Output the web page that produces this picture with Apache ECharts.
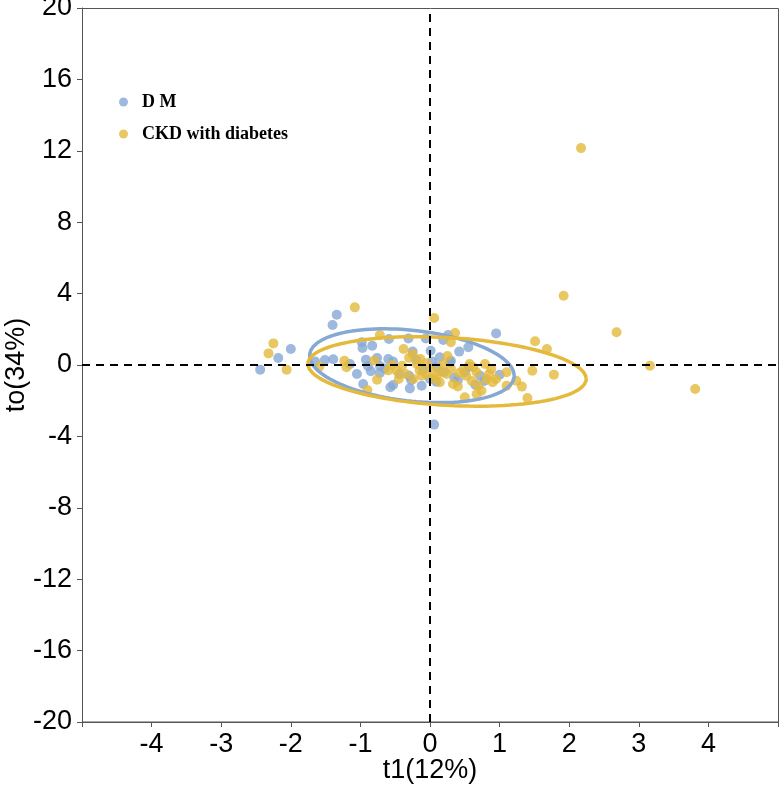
<!DOCTYPE html>
<html>
<head>
<meta charset="utf-8">
<script src="https://cdn.jsdelivr.net/npm/echarts@6/dist/echarts.min.js"></script>
<style>
  html, body { margin: 0; padding: 0; background: #fff; }
  #chart { width: 779px; height: 789px; }
</style>
</head>
<body>
<div id="chart"></div>
<script>
// group names
var groupNames = ['D M', 'CKD with diabetes'];

// scores t1 / to
var dmPoints = [
  [-2.44, -0.26], [-2.18, 0.39], [-2.0, 0.9], [-1.34, 2.82], [-1.40, 2.24],
  [-1.51, 0.28], [-1.39, 0.32], [-1.15, 0.06], [-0.98, 1.27], [-0.97, 0.95],
  [-0.83, 1.08], [-0.92, 0.3], [-0.89, -0.07], [-0.76, 0.39], [-0.72, -0.06],
  [-0.72, -0.45], [-0.96, -1.06], [-0.59, 1.46], [-0.6, 0.34], [-0.53, 0.19],
  [-0.57, -1.25], [-0.53, -1.12], [-0.31, 1.49], [-0.25, 0.75], [-0.3, -0.6],
  [-0.27, -0.85], [-0.29, -1.31], [-0.12, -1.16], [-0.06, 1.49], [0.01, 0.8],
  [0.03, 0.2], [0.14, 0.43], [0.19, 1.4], [0.26, 1.68], [0.3, 0.24],
  [0.09, -0.94], [0.42, 0.75], [0.55, 0.99], [0.95, 1.77], [0.06, -3.34],
  [0.35, -0.7], [0.4, -0.85], [0.56, -0.1], [0.29, 0.15], [0.72, -0.6],
  [0.78, -0.9], [-0.44, -0.5], [-0.1, -0.3], [0.2, -0.4], [-1.05, -0.5],
  [-0.65, -0.2], [0.1, -0.1], [-0.2, 0.3], [0.5, -0.4], [1.0, -0.55],
  [-1.65, 0.2], [-0.85, -0.35], [0.65, -1.1], [0.0, -0.78]
];

var ckdPoints = [
  [-1.08, 3.23], [0.06, 2.63], [-2.25, 1.21], [-2.32, 0.65], [-2.06, -0.26],
  [-1.59, -0.09], [-1.23, 0.24], [-1.2, -0.13], [-0.76, -0.82], [-0.9, -1.4],
  [-0.72, 1.68], [-0.38, 0.9], [-0.25, 0.62], [-0.14, 0.34], [-0.19, 0.06],
  [-0.4, -0.04], [-0.48, -0.32], [-0.45, -0.78], [-0.24, -0.78], [-0.12, -0.6],
  [-0.05, -0.5], [0.02, -0.22], [0.1, -0.6], [0.19, 0.06], [0.24, -0.5],
  [0.14, -0.97], [0.48, -0.22], [0.52, -0.6], [0.57, 0.06], [0.62, -0.13],
  [0.67, -0.41], [0.79, 0.06], [0.88, -0.22], [0.81, -0.78], [0.69, -1.16],
  [0.74, -1.44], [0.9, -0.97], [0.95, -0.78], [1.1, -0.41], [1.1, -1.16],
  [1.24, -0.88], [1.32, -1.21], [1.4, -1.85], [1.47, -0.32], [1.51, 1.33],
  [0.5, -1.81], [0.67, -1.62], [0.33, -1.06], [0.4, -1.2], [1.92, 3.88],
  [2.68, 1.83], [3.16, -0.04], [3.81, -1.34], [1.68, 0.9], [1.78, -0.54],
  [0.36, 1.79], [0.3, 1.27], [2.17, 12.15], [-0.6, -0.3], [-0.3, 0.4],
  [-0.05, 0.1], [0.3, -0.2], [0.05, -0.75], [-0.35, -0.5], [0.42, -0.45],
  [-0.15, -0.3], [0.6, -0.9], [0.85, -0.5], [-0.55, 0.0], [0.15, -0.35],
  [-0.8, 0.25], [0.25, 0.5]
];

// confidence ellipses: centre and two conjugate half-axes, data units
var dmEllipse = { c: [-0.26, -0.04], u: [1.47, -0.56], v: [0, 1.99] };
var ckdEllipse = { c: [0.245, -0.36], u: [2.0, -0.42], v: [0, 1.90] };

var xTicks = [-4, -3, -2, -1, 0, 1, 2, 3, 4];

var colors = ['#86A8D4', '#E4B93C'];

function ellipsePath(e) {
  var pts = [];
  for (var i = 0; i <= 120; i++) {
    var t = i / 120 * Math.PI * 2;
    pts.push([
      e.c[0] + e.u[0] * Math.cos(t) + e.v[0] * Math.sin(t),
      e.c[1] + e.u[1] * Math.cos(t) + e.v[1] * Math.sin(t)
    ]);
  }
  return pts;
}

var myChart = echarts.init(document.getElementById('chart'));

var axisFont = { fontFamily: 'Liberation Sans', fontSize: 27, color: '#000' };

var option = {
  animation: false,
  grid: { left: 82, right: 1, top: 8, bottom: 67, outerBoundsMode: 'none', containLabel: false },
  legend: {
    left: 114,
    top: 88,
    orient: 'vertical',
    itemGap: 14,
    icon: 'circle',
    itemWidth: 9,
    itemHeight: 9,
    data: groupNames,
    textStyle: {
      fontFamily: 'Liberation Serif', fontWeight: 'bold', fontSize: 18,
      lineHeight: 18, color: '#000', padding: [0, 0, 0, 9]
    }
  },
  xAxis: {
    type: 'value',
    min: -5,
    max: 5,
    interval: 1,
    name: 't1(12%)',
    nameLocation: 'middle',
    nameGap: 35,
    nameMoveOverlap: false,
    nameTextStyle: axisFont,
    axisLine: { onZero: false, lineStyle: { color: '#555' } },
    axisTick: { length: 5, lineStyle: { color: '#555' } },
    axisLabel: Object.assign({
      margin: 9,
      formatter: function (v) { return xTicks.indexOf(v) >= 0 ? String(v) : ''; }
    }, axisFont),
    splitLine: { show: false }
  },
  yAxis: {
    type: 'value',
    min: -20,
    max: 20,
    interval: 4,
    name: 'to(34%)',
    nameLocation: 'middle',
    nameGap: 52,
    nameMoveOverlap: false,
    nameTextStyle: axisFont,
    axisLine: { onZero: false, lineStyle: { color: '#555' } },
    axisTick: { length: 5, lineStyle: { color: '#555' } },
    axisLabel: Object.assign({ margin: 10 }, axisFont),
    splitLine: { show: false }
  },
  series: [
    {
      name: groupNames[0],
      type: 'scatter',
      data: dmPoints,
      symbolSize: 10,
      itemStyle: { color: colors[0] },
      z: 3,
      markLine: {
        silent: true,
        symbol: 'none',
        label: { show: false },
        lineStyle: { color: '#000', type: [8, 6], width: 2 },
        data: [{ xAxis: 0 }, { yAxis: 0 }]
      }
    },
    {
      name: groupNames[1],
      type: 'scatter',
      data: ckdPoints,
      symbolSize: 10,
      itemStyle: { color: colors[1] },
      z: 3
    },
    {
      name: groupNames[0] + ' ellipse',
      type: 'line',
      data: ellipsePath(dmEllipse),
      showSymbol: false,
      smooth: false,
      lineStyle: { color: colors[0], width: 3.5 },
      z: 4,
      silent: true
    },
    {
      name: groupNames[1] + ' ellipse',
      type: 'line',
      data: ellipsePath(ckdEllipse),
      showSymbol: false,
      smooth: false,
      lineStyle: { color: colors[1], width: 3.5 },
      z: 4,
      silent: true
    }
  ],
  graphic: [
    {
      type: 'rect',
      shape: { x: 82.5, y: 8.5, width: 696, height: 713.5 },
      style: { fill: 'none', stroke: '#555', lineWidth: 1 },
      silent: true
    }
  ]
};

myChart.setOption(option);
window.addEventListener('resize', function () {
  myChart.resize();
});
</script>
</body>
</html>
